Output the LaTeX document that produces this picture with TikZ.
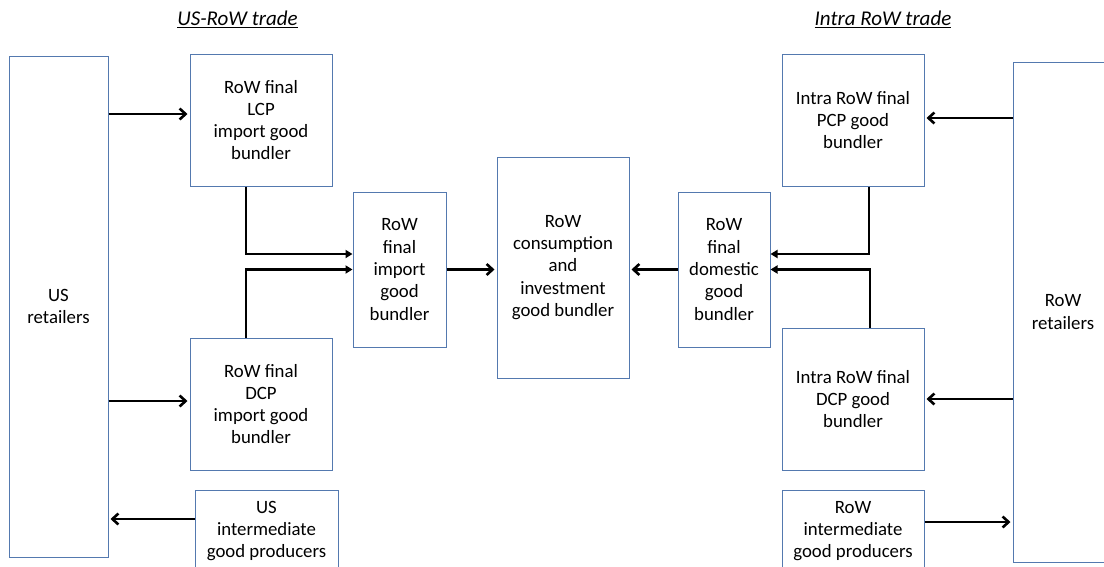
\documentclass[tikz,border=0pt]{standalone}
\usepackage{fontspec}
\setmainfont{Carlito}
\usetikzlibrary{arrows.meta}
\definecolor{boxblue}{RGB}{84,121,175}
\tikzset{
  block/.style={draw=boxblue,line width=1pt,align=center,inner sep=2pt},
  flow/.style={-{Straight Barb[length=6pt,width=11pt]},line width=2.6pt,shorten >=2pt},
  merge/.style={-{Triangle[length=7pt,width=8pt]},line width=2.6pt},
  heading/.style={font=\fontsize{21}{25}\selectfont\itshape}
}

\begin{document}
\begin{tikzpicture}[x=1pt,y=-1pt,
  every node/.style={font=\fontsize{18.8}{22.3}\selectfont}]
\useasboundingbox (0,0) rectangle (1104,566);
\clip (0,0) rectangle (1104,566);

% Headings
\node[heading] (ustrade) at (237.5,19) {\underline{US-RoW trade}};
\node[heading] (intratrade) at (883,19) {\underline{Intra RoW trade}};

% US side
\node[block,minimum width=99pt,minimum height=501pt] (USret) at (58.5,306.5) {US\\retailers};
\node[block,minimum width=142pt,minimum height=132pt] (LCP) at (261,120) {RoW final\\LCP\\import good\\bundler};
\node[block,minimum width=142pt,minimum height=132pt] (DCPus) at (261,404) {RoW final\\DCP\\import good\\bundler};
\node[block,minimum width=143pt,minimum height=82pt] (USint) at (266.5,531) {US\\intermediate\\good producers};

% Bundlers in the middle
\node[block,minimum width=93pt,minimum height=155pt] (Imp) at (399.5,269.5) {RoW\\final\\import\\good\\bundler};
\node[block,minimum width=132pt,minimum height=221pt] (Cons) at (563,267.5) {RoW\\consumption\\and\\investment\\good bundler};
\node[block,minimum width=92pt,minimum height=155pt] (Dom) at (724,269.5) {RoW\\final\\domestic\\good\\bundler};

% RoW side
\node[block,minimum width=142pt,minimum height=132pt] (PCP) at (853,120) {Intra RoW final\\PCP good\\bundler};
\node[block,minimum width=142pt,minimum height=142pt] (DCProw) at (853,399) {Intra RoW final\\DCP good\\bundler};
\node[block,minimum width=142pt,minimum height=82pt] (RoWint) at (853,531) {RoW\\intermediate\\good producers};
\node[block,minimum width=100pt,minimum height=500pt] (RoWret) at (1063,312) {RoW\\retailers};

% Connector ends
\coordinate (lcpin) at ([yshift=6pt]LCP.west);
\coordinate (dcpusin) at ([yshift=3pt]DCPus.west);
\coordinate (usintout) at ([yshift=12pt]USint.west);
\coordinate (lcpout) at ([xshift=-15pt]LCP.south);
\coordinate (dcpusout) at ([xshift=-15pt]DCPus.north);
\coordinate (impin) at ([yshift=15.5pt]Imp.west);
\coordinate (pcpout) at ([xshift=16pt]PCP.south);
\coordinate (dcprowout) at ([xshift=17pt]DCProw.north);
\coordinate (domin) at ([yshift=15.5pt]Dom.east);
\coordinate (pcpin) at ([yshift=2pt]PCP.east);
\coordinate (rowintout) at ([yshift=9pt]RoWint.east);

% US-RoW trade
\draw[flow] (USret.east |- lcpin) -- (lcpin);
\draw[flow] (USret.east |- dcpusin) -- (dcpusin);
\draw[flow] (usintout) -- (usintout -| USret.east);
\draw[merge] (lcpout) |- (impin);
\draw[merge] (dcpusout) |- (Imp.west);
\draw[flow] (Imp.east) -- (Imp.east -| Cons.west);

% Intra RoW trade
\draw[flow] (Dom.west) -- (Dom.west -| Cons.east);
\draw[merge] (pcpout) |- (domin);
\draw[merge] (dcprowout) |- (Dom.east);
\draw[flow] (RoWret.west |- pcpin) -- (pcpin);
\draw[flow] (RoWret.west |- DCProw.east) -- (DCProw.east);
\draw[flow] (rowintout) -- (rowintout -| RoWret.west);

\end{tikzpicture}
\end{document}
